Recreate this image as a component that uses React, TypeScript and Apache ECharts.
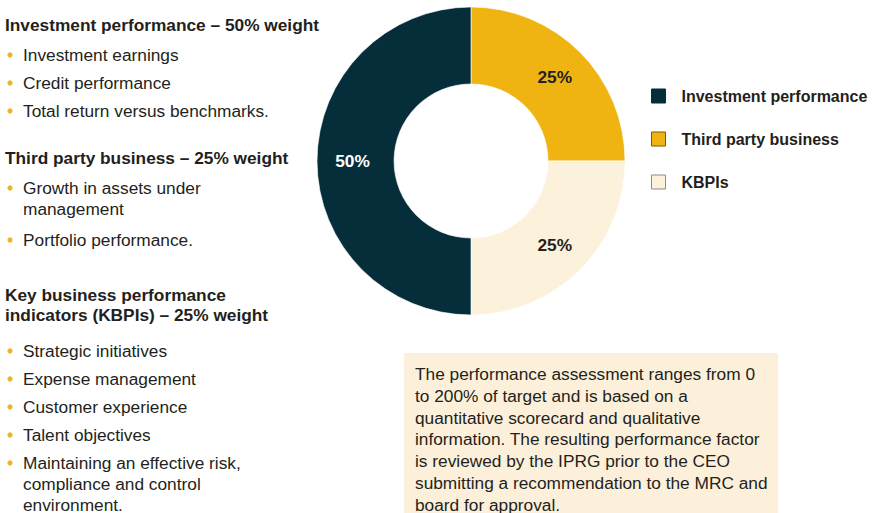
import React, { useEffect, useRef } from "react";
import * as echarts from "echarts";

// ---- data ----
const categories = ["Third party business", "KBPIs", "Investment performance"];
const weights = [25, 25, 50];
const legendOrder = ["Investment performance", "Third party business", "KBPIs"];

const sectionTitles = [
  "Investment performance – 50% weight",
  "Third party business – 25% weight",
  "Key business performance\nindicators (KBPIs) – 25% weight",
];
const sectionItems = [
  ["Investment earnings", "Credit performance", "Total return versus benchmarks."],
  ["Growth in assets under\nmanagement", "Portfolio performance."],
  [
    "Strategic initiatives",
    "Expense management",
    "Customer experience",
    "Talent objectives",
    "Maintaining an effective risk,\ncompliance and control\nenvironment.",
  ],
];
const boxLines = [
  "The performance assessment ranges from 0",
  "to 200% of target and is based on a",
  "quantitative scorecard and qualitative",
  "information. The resulting performance factor",
  "is reviewed by the IPRG prior to the CEO",
  "submitting a recommendation to the MRC and",
  "board for approval.",
];

// ---- styles / layout ----
const sliceColors = ["#EFB312", "#FCF1DA", "#052E3A"];
const labelColors = ["#231F20", "#231F20", "#FFFFFF"];
const FONT = '"Liberation Sans", Arial, Helvetica, sans-serif';
const TEXT = "#231F20";
const BULLET = "#F0B323";
const FS = 17.3;
const titleY = [25, 158, 295];
const itemStartY = [55, 188, 351];

export default function App() {
  const ref = useRef<HTMLDivElement>(null);
  useEffect(() => {
    if (!ref.current) return;
    const chart = echarts.init(ref.current, null, { renderer: "svg" });

    const graphics: any[] = [];
    sectionTitles.forEach((t, si) => {
      graphics.push({
        type: "text",
        style: {
          text: t,
          x: 5,
          y: titleY[si] - 10,
          fill: TEXT,
          fontSize: FS,
          fontWeight: "bold",
          fontFamily: FONT,
          lineHeight: 20,
          verticalAlign: "top",
        },
      });
      let y = itemStartY[si];
      sectionItems[si].forEach((it) => {
        const lines = it.split("\n").length;
        graphics.push({
          type: "circle",
          shape: { cx: 10, cy: y, r: 2.6 },
          style: { fill: BULLET },
        });
        graphics.push({
          type: "text",
          style: {
            text: it,
            x: 23,
            y: y - 10.5,
            fill: TEXT,
            fontSize: FS,
            fontFamily: FONT,
            lineHeight: 21,
            verticalAlign: "top",
          },
        });
        y += 28 + (lines - 1) * 24;
      });
    });
    graphics.push({
      type: "rect",
      shape: { x: 404, y: 353, width: 374, height: 160 },
      style: { fill: "#FCF0DA" },
      z: -1,
    });
    graphics.push({
      type: "text",
      style: {
        text: boxLines.join("\n"),
        x: 415,
        y: 363.5,
        fill: TEXT,
        fontSize: FS,
        fontFamily: FONT,
        lineHeight: 21.7,
        verticalAlign: "top",
      },
    });

    chart.setOption({
      animation: false,
      backgroundColor: "#ffffff",
      legend: {
        orient: "vertical",
        left: 651,
        top: 88,
        padding: 0,
        itemWidth: 14,
        itemHeight: 14,
        itemGap: 27,
        icon: "rect",
        data: legendOrder.map((n) => ({
          name: n,
          itemStyle: {
            borderColor: n === "Investment performance" ? "#052E3A" : n === "KBPIs" ? "#8c8c8c" : "#7a5c00",
            borderWidth: 1,
          },
        })),
        textStyle: {
          fontSize: 16,
          fontWeight: "bold",
          fontFamily: FONT,
          color: TEXT,
          padding: [0, 0, 0, 11],
        },
        selectedMode: false,
      },
      graphic: graphics,
      series: [
        {
          type: "pie",
          center: [471, 161],
          radius: [77, 154],
          startAngle: 90,
          clockwise: true,
          avoidLabelOverlap: false,
          label: {
            show: true,
            position: "inside",
            formatter: "{c}%",
            fontSize: FS,
            fontWeight: "bold",
            fontFamily: FONT,
          },
          labelLine: { show: false },
          emphasis: { disabled: true },
          itemStyle: { borderColor: "#ffffff", borderWidth: 0.6 },
          data: categories.map((c, i) => ({
            name: c,
            value: weights[i],
            itemStyle: { color: sliceColors[i] },
            label: { color: labelColors[i] },
          })),
        },
      ],
    });
    return () => chart.dispose();
  }, []);
  return (
    <div
      ref={ref}
      style={{ position: "absolute", left: 0, top: 0, width: 875, height: 513 }}
    />
  );
}
